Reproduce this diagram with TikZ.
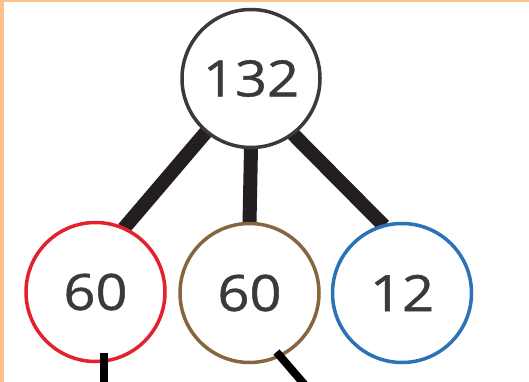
\documentclass[tikz,border=0pt]{standalone}
\usepackage{fontspec}
\setmainfont{Open Sans}
\newfontfamily\numfont[FakeBold=0.8]{Open Sans}
\usetikzlibrary{calc,backgrounds}
\definecolor{peach}{HTML}{FDC18E}
\definecolor{ink}{HTML}{231F20}
\definecolor{numgray}{HTML}{3A3A3A}
\definecolor{cred}{HTML}{E2232F}
\definecolor{cbrown}{HTML}{86663F}
\definecolor{cblue}{HTML}{2B72B6}
\tikzset{
  num/.style={circle,draw,fill=white,line width=3.5pt,inner sep=0pt,outer sep=0pt,
    minimum size=139pt,text=numgray,
    font=\numfont\fontsize{50}{50}\selectfont},
  bond/.style={draw=ink,line width=14pt,line cap=butt},
  lead/.style={draw=black,line width=8pt,line cap=butt},
}
\newcommand{\widetxt}[1]{\scalebox{1.12}[1]{#1}}
\begin{document}
\begin{tikzpicture}[x=1pt,y=-1pt]
\useasboundingbox (0,0) rectangle (529,382);
\clip (0,0) rectangle (529,382);
\begin{scope}[on background layer]
\fill[white] (0,0) rectangle (529,382);
\fill[peach] (0,0) rectangle (4,382);
\fill[peach] (0,0) rectangle (529,1.6);
\end{scope}
\node[num,draw=numgray,minimum size=138pt] (top) at (251,78.5) {\widetxt{132}};
\node[num,draw=cred] (red) at (95.5,292) {\widetxt{60}};
\node[num,draw=cbrown] (mid) at (249.5,293) {\widetxt{60}};
\node[num,draw=cblue] (blue) at (402,293) {\widetxt{12}};
\begin{scope}[on background layer]
\draw[bond] (top.230) -- (red.66);
\draw[bond] (top.270) -- (mid.90);
\draw[bond] (top.307) -- (blue.105);
\end{scope}
\coordinate (redend) at ($(red.center)+(8.5,95)$);
\coordinate (midend) at ($(mid.center)+(58,95)$);
\draw[lead] ($(red.center)+(8.5,61)$) -- (redend);
\draw[lead] ($(mid.center)+(27,59)$) -- (midend);
\end{tikzpicture}
\end{document}
